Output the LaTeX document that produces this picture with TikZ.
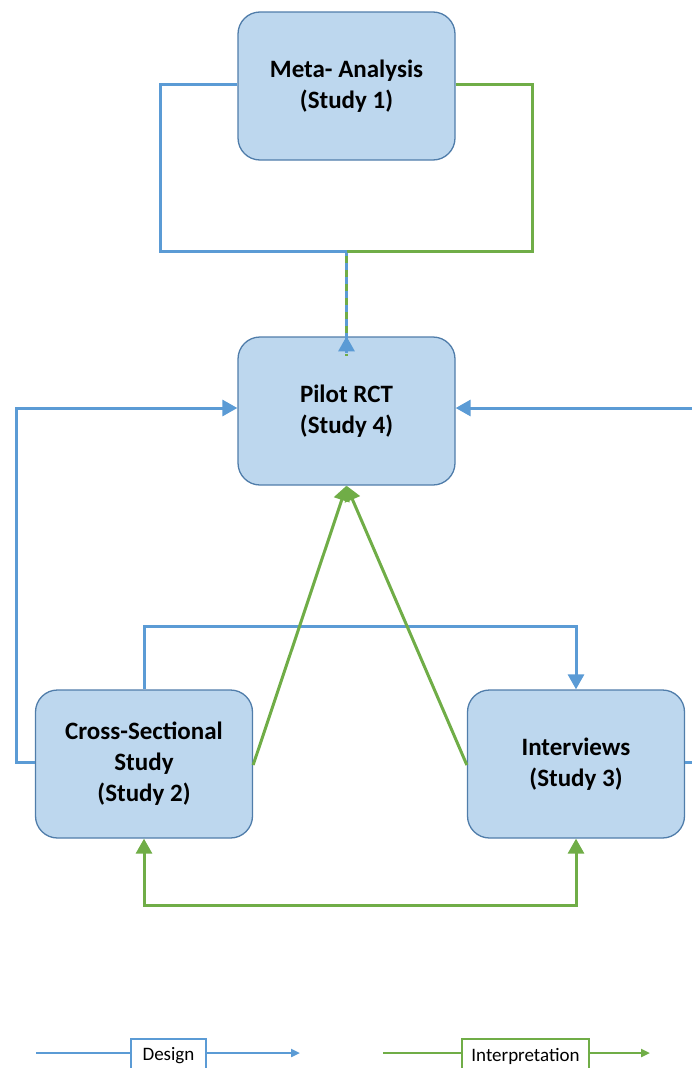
\documentclass[tikz,border=0pt]{standalone}
\usepackage{fontspec}
\setmainfont{Carlito}
\usetikzlibrary{arrows.meta}
\definecolor{boxfill}{RGB}{189,215,238}
\definecolor{boxline}{RGB}{80,125,170}
\definecolor{dblue}{RGB}{91,155,213}
\definecolor{igreen}{RGB}{112,173,71}
\tikzset{
  studybox/.style={draw=boxline, line width=1.3pt, fill=boxfill, rounded corners=22pt,
    minimum width=217pt, minimum height=148pt, align=center,
    font=\fontsize{25}{31}\selectfont\bfseries, inner sep=0pt},
  designline/.style={draw=dblue, line width=3pt},
  interline/.style={draw=igreen, line width=3pt},
  tip/.style={-{Triangle[length=15pt,width=16pt]}},
  legbox/.style={fill=white, line width=2pt, minimum width=75pt, minimum height=34pt,
    inner sep=0pt, font=\fontsize{19}{22}\selectfont},
}
\begin{document}
\begin{tikzpicture}[x=1pt,y=-1pt]
\useasboundingbox (0,0) rectangle (692,1068);
\node[studybox] (meta) at (346.5,86) {Meta- Analysis\\(Study 1)};
\node[studybox] (pilot) at (346.5,411) {Pilot RCT\\(Study 4)};
\node[studybox] (cross) at (144,764) {Cross-Sectional\\Study\\(Study 2)};
\node[studybox] (inter) at (576,764) {Interviews\\(Study 3)};
\coordinate (merge) at (346.5,251);
% top: meta to pilot
\draw[designline] (meta.west |- 0,84) -- (160,84) -- (160,251) -- (merge);
\draw[interline] (meta.east |- 0,84) -- (532,84) -- (532,251) -- (merge);
\draw[designline] ([yshift=-1.5pt]merge) -- ([yshift=-14pt]pilot.north);
\draw[interline, line width=2.4pt, dash pattern=on 7pt off 7pt, dash phase=-3pt] ([yshift=-1.5pt]merge) -- ([yshift=-20pt]pilot.north);
\draw[designline, tip] ([yshift=-17pt]pilot.north) -- (pilot.north);
% left loop: cross to pilot
\draw[designline, tip] (cross.west |- 0,762) -- (16,762) -- (16,408) -- (pilot.west |- 0,408);
% right loop: interviews to pilot
\draw[designline, tip] (inter.east |- 0,762) -- (720,762) -- (720,408) -- (pilot.east |- 0,408);
% cross to interviews (design)
\draw[designline, tip] (cross.north) -- (144,626) -- (576,626) -- (inter.north);
% green to pilot
\draw[interline, tip] (cross.east |- 0,765) -- (pilot.south);
\draw[interline, tip] (inter.west |- 0,765) -- (pilot.south);
% bottom green double arrow
\draw[interline, {Triangle[length=15pt,width=16pt]}-{Triangle[length=15pt,width=16pt]}] (cross.south) -- (144,905) -- (576,905) -- (inter.south);
% legend
\coordinate (d1) at (36,1053);
\coordinate (d2) at (300,1053);
\coordinate (g1) at (383,1053);
\coordinate (g2) at (650,1053);
\draw[designline, line width=2.2pt, -{Triangle[length=9pt,width=8pt]}] (d1) -- (d2);
\node[legbox, draw=dblue, anchor=north] (dlab) at (168.5,1038) {Design};
\draw[interline, line width=2.2pt, -{Triangle[length=9pt,width=8pt]}] (g1) -- (g2);
\node[legbox, draw=igreen, minimum width=127pt, anchor=north] (glab) at (525.5,1038) {Interpretation};
\end{tikzpicture}
\end{document}
